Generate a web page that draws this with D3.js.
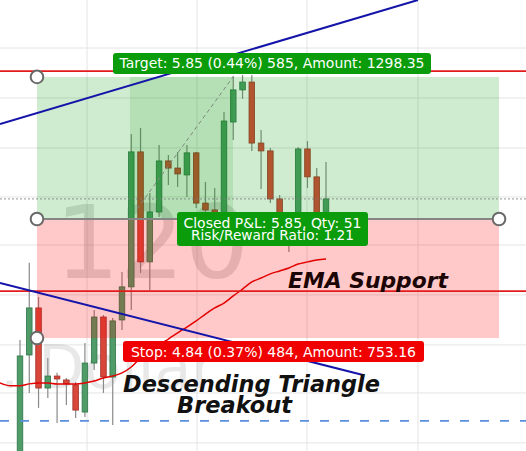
<!DOCTYPE html>
<html><head><meta charset="utf-8">
<script src="https://cdn.jsdelivr.net/npm/d3@7"></script>
<style>
html,body{margin:0;padding:0;background:#fff;overflow:hidden;}
svg{display:block;}
</style></head>
<body><div id="chart"></div>
<script>
// ---- data (prices) ----
const candleOpen  = [1312.06,1316.96,1318.88,1315.61,1316.10,1315.94,1315.74,1314.63,1316.63,1318.51,1316.06,1318.39,1319.74,1325.25,1320.76,1322.80,1324.88,1324.59,1324.31,1325.21,1323.16,1322.88,1322.71,1326.47,1327.78,1328.10,1325.61,1325.29,1323.33,1322.39,1322.06,1325.37,1324.23,1322.47];
const candleHigh  = [1317.57,1320.72,1319.33,1316.84,1316.23,1316.02,1315.86,1317.45,1318.80,1318.59,1318.47,1320.35,1325.98,1326.23,1323.57,1325.53,1325.12,1325.25,1325.53,1325.25,1324.02,1323.78,1326.88,1328.35,1328.39,1328.39,1326.14,1325.41,1323.49,1322.67,1325.45,1325.69,1324.59,1324.84];
const candleLow   = [1311.86,1315.41,1314.80,1315.20,1314.18,1314.92,1314.39,1314.43,1316.35,1315.41,1314.10,1317.98,1318.80,1320.31,1319.61,1322.59,1323.90,1323.82,1323.41,1322.96,1322.76,1322.39,1322.39,1325.74,1327.41,1325.29,1323.74,1323.16,1322.14,1321.16,1321.86,1323.78,1322.06,1322.23];
const candleClose = [1316.92,1318.88,1315.61,1316.10,1315.98,1315.78,1314.71,1316.63,1318.51,1316.06,1318.35,1319.74,1325.25,1320.76,1322.80,1324.88,1324.59,1324.35,1325.21,1323.16,1322.88,1322.71,1326.51,1327.78,1328.10,1325.61,1325.29,1323.33,1322.39,1322.06,1325.37,1324.23,1322.39,1323.33];

const emaIndex = [-2.2,-1,0,1,2,3,4,5,6,7,8,9,10,11,12,13,14,15,16,17,18,19,20,21,22,23,24,25,26,27,28,29,30,31,32,33];
const emaValue = [1315.82,1315.70,1315.70,1315.78,1315.82,1315.82,1315.78,1315.78,1315.78,1315.82,1315.90,1316.02,1316.10,1316.23,1316.47,1316.84,1317.12,1317.37,1317.61,1317.86,1318.10,1318.35,1318.63,1318.88,1319.08,1319.37,1319.65,1319.94,1320.10,1320.27,1320.39,1320.51,1320.67,1320.76,1320.84,1320.88];

const gridPrices = [1329.49,1327.45,1325.41,1323.41,1321.45,1319.41,1317.37,1315.41,1313.37];
const gridIndex = [7.23,19.09,30.95,42.92];

const entryPrice = 1322.51, targetPrice = 1328.31, stopPrice = 1317.65;
const zoneIndex = [1.83, 51.66];
const activeIndex = [11.85, 22.97];
const tradePath = [[12.62,1322.92],[22.97,1328.31]];
const lastPrice = 1323.33;
const resistancePrice = 1328.55, emaSupportPrice = 1319.57, lowDashedPrice = 1314.27;
const trendUp = [[-2.157,1326.39],[42.92,1331.45]];
const trendDown = [[-2.157,1319.90],[36.99,1316.14]];

const targetText = "Target: 5.85 (0.44%) 585, Amount: 1298.35";
const stopText = "Stop: 4.84 (0.37%) 484, Amount: 753.16";
const pnlText = ["Closed P&L: 5.85, Qty: 51","Risk/Reward Ratio: 1.21"];
const watermark = ["120",". Dollar"];

// ---- drawing ----
const W=526,H=451;
const svg = d3.select("#chart").append("svg").attr("width",W).attr("height",H);
const x = d3.scaleLinear().domain([0,33]).range([20,326]);
const y = d3.scaleLinear().domain([1313.04,1331.45]).range([H,0]);

svg.append("rect").attr("width",W).attr("height",H).attr("fill","#fff");

// grid
svg.append("g").selectAll("line").data(gridPrices).join("line")
  .attr("x1",0).attr("x2",W).attr("y1",d=>y(d)).attr("y2",d=>y(d))
  .attr("stroke","#e4e4e4").attr("stroke-width",1);
svg.append("g").selectAll("line").data(gridIndex).join("line")
  .attr("x1",d=>x(d)).attr("x2",d=>x(d)).attr("y1",0).attr("y2",H)
  .attr("stroke","#e4e4e4").attr("stroke-width",1);

// watermark
svg.append("text").attr("x",152).attr("y",278).attr("text-anchor","middle")
  .attr("font-family","DejaVu Sans").attr("font-size",102)
  .attr("fill","rgba(110,110,110,0.22)").text(watermark[0]);
svg.append("text").attr("x",0).attr("y",388)
  .attr("font-family","DejaVu Sans").attr("font-size",60)
  .attr("fill","rgba(110,110,110,0.16)").text(watermark[1]);

// candles
const idx = d3.range(candleOpen.length);
const cw = x(0.6)-x(0);
const cg = svg.append("g");
cg.selectAll("line").data(idx).join("line")
  .attr("x1",i=>x(i)).attr("x2",i=>x(i))
  .attr("y1",i=>y(candleHigh[i])).attr("y2",i=>y(candleLow[i]))
  .attr("stroke","#8a8a8a").attr("stroke-width",1.2);
cg.selectAll("rect").data(idx).join("rect")
  .attr("x",i=>x(i)-cw/2).attr("width",cw)
  .attr("y",i=>y(Math.max(candleOpen[i],candleClose[i])))
  .attr("height",i=>Math.max(1.5,Math.abs(y(candleOpen[i])-y(candleClose[i]))))
  .attr("fill",i=>candleClose[i]>=candleOpen[i]?"#4f9c68":"#d9473b")
  .attr("stroke",i=>candleClose[i]>=candleOpen[i]?"#2f7447":"#9e3027")
  .attr("stroke-width",0.8);

// zones
const zx0 = x(zoneIndex[0]), zx1 = x(zoneIndex[1]);
svg.append("rect").attr("x",zx0).attr("width",zx1-zx0)
  .attr("y",y(targetPrice)).attr("height",y(entryPrice)-y(targetPrice))
  .attr("fill","rgba(0,153,0,0.185)");
svg.append("rect").attr("x",zx0).attr("width",zx1-zx0)
  .attr("y",y(entryPrice)).attr("height",y(stopPrice)-y(entryPrice))
  .attr("fill","rgba(255,0,0,0.21)");
svg.append("rect").attr("x",x(activeIndex[0])).attr("width",x(activeIndex[1])-x(activeIndex[0]))
  .attr("y",y(targetPrice)).attr("height",y(entryPrice)-y(targetPrice))
  .attr("fill","rgba(0,140,0,0.13)");

// last price dotted line
svg.append("line").attr("x1",0).attr("x2",W).attr("y1",y(lastPrice)).attr("y2",y(lastPrice))
  .attr("stroke","#7a7a7a").attr("stroke-width",0.8).attr("stroke-dasharray","2,2");

// entry line
svg.append("line").attr("x1",zx0).attr("x2",zx1).attr("y1",y(entryPrice)).attr("y2",y(entryPrice))
  .attr("stroke","#858585").attr("stroke-width",2);

// trade path
const line = d3.line().x(d=>x(d[0])).y(d=>y(d[1]));
svg.append("path").attr("d",line(tradePath)).attr("fill","none")
  .attr("stroke","#7d8a7d").attr("stroke-width",1).attr("stroke-dasharray","4,3");

// EMA
svg.append("path").attr("d",d3.line().curve(d3.curveMonotoneX).x((d,i)=>x(emaIndex[i])).y(d=>y(d))(emaValue))
  .attr("fill","none").attr("stroke","#e30000").attr("stroke-width",1.5);

// horizontal levels
[resistancePrice, emaSupportPrice].forEach(p=>{
  svg.append("line").attr("x1",0).attr("x2",W).attr("y1",y(p)).attr("y2",y(p))
    .attr("stroke","#e21b1b").attr("stroke-width",1.7);
});
svg.append("line").attr("x1",0).attr("x2",W).attr("y1",y(lowDashedPrice)).attr("y2",y(lowDashedPrice))
  .attr("stroke","#5a8fdc").attr("stroke-width",1.6).attr("stroke-dasharray","9,11");

// trendlines
[trendUp, trendDown].forEach(t=>{
  svg.append("path").attr("d",line(t)).attr("fill","none")
    .attr("stroke","#1414a8").attr("stroke-width",2);
});

// handles
[[zoneIndex[0],targetPrice],[zoneIndex[0],entryPrice],[zoneIndex[1],entryPrice],[zoneIndex[0],stopPrice]].forEach(h=>{
  svg.append("circle").attr("cx",x(h[0])).attr("cy",y(h[1])).attr("r",6.3)
    .attr("fill","#fff").attr("stroke","#6a6a6a").attr("stroke-width",2);
});

// labels
const cx = (zx0+zx1)/2 + 4;
function label(x0,x1,y0,y1,fill,lines,baselines,lens){
  svg.append("rect").attr("x",x0).attr("y",y0).attr("width",x1-x0).attr("height",y1-y0)
    .attr("rx",3).attr("fill",fill);
  lines.forEach((t,i)=>{
    svg.append("text").attr("x",(x0+x1)/2).attr("y",baselines[i]).attr("text-anchor","middle")
      .attr("font-family","DejaVu Sans").attr("font-size",13.5).attr("fill","#fff")
      .attr("textLength",lens[i]).attr("lengthAdjust","spacingAndGlyphs").text(t);
  });
}
const ty = y(targetPrice), sy = y(stopPrice), ey = y(entryPrice);
label(cx-159, cx+159, ty-24, ty-3, "#0a9c0a", [targetText], [ty-9], [305]);
label(cx-95, cx+96, ey-7, ey+27, "#0a9c0a", pnlText, [ey+9, ey+20.5], [178,163]);
label(cx-149, cx+152, sy+3, sy+24, "#f00000", [stopText], [sy+19], [285]);

// annotations
svg.append("text").attr("x",288).attr("y",y(emaSupportPrice)-3)
  .attr("font-family","DejaVu Sans").attr("font-weight","bold").attr("font-style","italic")
  .attr("font-size",22).attr("fill","#1c0505").attr("textLength",160).attr("lengthAdjust","spacingAndGlyphs")
  .text("EMA Support");
svg.append("text").attr("x",123).attr("y",392)
  .attr("font-family","DejaVu Sans").attr("font-weight","bold").attr("font-style","italic")
  .attr("font-size",23.5).attr("fill","#111").attr("textLength",257).attr("lengthAdjust","spacingAndGlyphs")
  .text("Descending Triangle");
svg.append("text").attr("x",177).attr("y",413)
  .attr("font-family","DejaVu Sans").attr("font-weight","bold").attr("font-style","italic")
  .attr("font-size",23.5).attr("fill","#111").attr("textLength",115).attr("lengthAdjust","spacingAndGlyphs")
  .text("Breakout");
</script></body></html>
